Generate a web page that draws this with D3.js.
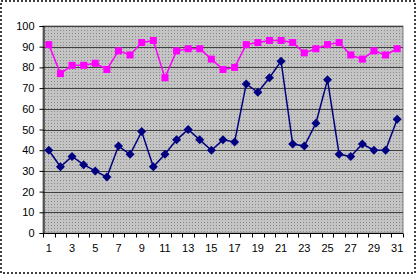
<!DOCTYPE html>
<html>
<head>
<meta charset="utf-8">
<script src="https://cdn.jsdelivr.net/npm/d3@7"></script>
<style>
  body { margin: 0; background: #fff; }
  svg { display: block; }
  .tick text { font-family: "Liberation Sans", Arial, sans-serif; font-size: 11px; fill: #000; }
</style>
</head>
<body>
<svg id="SvgContainer"></svg>
<script>
var days = d3.range(1, 32);
var pinkValues = [91, 77, 81, 81, 82, 79, 88, 86, 92, 93, 75, 88, 89, 89, 84, 79, 80, 91, 92, 93, 93, 92, 87, 89, 91, 92, 86, 84, 88, 86, 89];
var blueValues = [40, 32, 37, 33, 30, 27, 42, 38, 49, 32, 38, 45, 50, 45, 40, 45, 44, 72, 68, 75, 83, 43, 42, 53, 74, 38, 37, 43, 40, 40, 55];
var yTicks = [0, 10, 20, 30, 40, 50, 60, 70, 80, 90, 100];
var xLabels = days.filter(function (d) { return d % 2 === 1; });

var width = 418;
var height = 276;
var plotLeft = 43, plotRight = 403, plotTop = 26, plotBottom = 233;

var svg = d3.select("svg").attr("width", width).attr("height", height);

// chart area border
svg.append("rect")
    .attr("x", 1).attr("y", 1)
    .attr("width", 414).attr("height", 272)
    .attr("fill", "#fff")
    .attr("stroke", "#000")
    .attr("stroke-width", 1.5)
    .attr("stroke-dasharray", "2,2");

// dotted gray fill of the plot area
var defs = svg.append("defs");
var pat = defs.append("pattern")
    .attr("id", "dots")
    .attr("width", 3).attr("height", 3)
    .attr("patternUnits", "userSpaceOnUse");
pat.append("rect").attr("width", 3).attr("height", 3).attr("fill", "#c4c4c4");
pat.append("rect").attr("width", 1).attr("height", 1).attr("fill", "#8c8c8c");

var x = d3.scaleBand().domain(days).range([plotLeft, plotRight]);
var y = d3.scaleLinear().domain([0, 100]).range([plotBottom, plotTop]);

svg.append("rect")
    .attr("x", plotLeft).attr("y", plotTop)
    .attr("width", plotRight - plotLeft).attr("height", plotBottom - plotTop)
    .attr("fill", "url(#dots)")
    .attr("stroke", "#808080")
    .attr("stroke-width", 1);

// gridlines
svg.append("g")
    .selectAll("line")
    .data(yTicks.slice(1))
    .enter()
    .append("line")
    .attr("x1", plotLeft).attr("x2", plotRight)
    .attr("y1", function (d) { return Math.round(y(d)) + 0.5; })
    .attr("y2", function (d) { return Math.round(y(d)) + 0.5; })
    .attr("stroke", "#404040")
    .attr("stroke-width", 1);

// y axis
var yAxis = svg.append("g")
    .attr("transform", "translate(" + (plotLeft + 0.5) + ",0)")
    .call(d3.axisLeft(y).tickValues(yTicks).tickSize(4).tickPadding(5));
yAxis.selectAll("line, path").attr("stroke", "#000");

// x axis: ticks at category boundaries, labels on odd days
var xAxisG = svg.append("g").attr("transform", "translate(0," + (plotBottom + 0.5) + ")");
xAxisG.append("line")
    .attr("x1", plotLeft).attr("x2", plotRight)
    .attr("stroke", "#000");
xAxisG.selectAll(".bnd")
    .data(d3.range(0, 32))
    .enter()
    .append("line")
    .attr("class", "bnd")
    .attr("x1", function (i) { return Math.round(plotLeft + i * x.step()) + 0.5; })
    .attr("x2", function (i) { return Math.round(plotLeft + i * x.step()) + 0.5; })
    .attr("y1", 0).attr("y2", 4)
    .attr("stroke", "#000");
xAxisG.append("g")
    .attr("class", "tick")
    .selectAll("text")
    .data(xLabels)
    .enter()
    .append("text")
    .attr("x", function (d) { return x(d) + x.bandwidth() / 2; })
    .attr("y", 18)
    .attr("text-anchor", "middle")
    .text(function (d) { return d; });

var cx = function (d, i) { return x(days[i]) + x.bandwidth() / 2; };

// pink series
var pinkLine = d3.line().x(function (d, i) { return cx(d, i); }).y(function (d) { return y(d); });
svg.append("path")
    .datum(pinkValues)
    .attr("d", pinkLine)
    .attr("fill", "none")
    .attr("stroke", "#ff00ff")
    .attr("stroke-width", 1.5);
svg.append("g")
    .selectAll("rect")
    .data(pinkValues)
    .enter()
    .append("rect")
    .attr("x", function (d, i) { return cx(d, i) - 3.5; })
    .attr("y", function (d) { return y(d) - 3.5; })
    .attr("width", 7).attr("height", 7)
    .attr("fill", "#ff00ff");

// blue series
svg.append("path")
    .datum(blueValues)
    .attr("d", pinkLine)
    .attr("fill", "none")
    .attr("stroke", "#000080")
    .attr("stroke-width", 1.5);
svg.append("g")
    .selectAll("path")
    .data(blueValues)
    .enter()
    .append("path")
    .attr("d", function (d, i) {
        var px = cx(d, i), py = y(d);
        return "M" + px + "," + (py - 4.5) + "L" + (px + 4.5) + "," + py + "L" + px + "," + (py + 4.5) + "L" + (px - 4.5) + "," + py + "Z";
    })
    .attr("fill", "#000080");
</script>
</body>
</html>
